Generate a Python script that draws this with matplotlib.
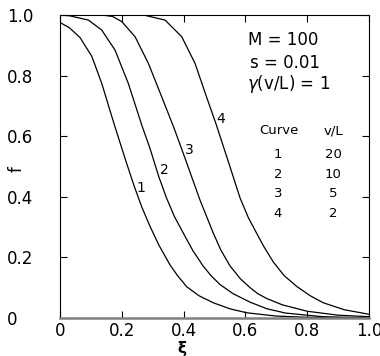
import matplotlib
matplotlib.use("Agg")
from matplotlib import pyplot as plt

# values
xi1 = [0.0, 0.03, 0.065, 0.103, 0.135, 0.175, 0.214, 0.24, 0.265, 0.29, 0.32, 0.356, 0.38,
       0.41, 0.45, 0.496, 0.55, 0.604, 0.7, 0.8, 1.0]
f1 = [0.975, 0.958, 0.925, 0.863, 0.774, 0.64, 0.515, 0.435, 0.365, 0.305, 0.24, 0.175, 0.14,
      0.103, 0.073, 0.05, 0.03, 0.017, 0.006, 0.002, 0.0]

xi2 = [0.0, 0.032, 0.092, 0.135, 0.178, 0.221, 0.266, 0.291, 0.32, 0.345, 0.37, 0.399, 0.43,
       0.464, 0.49, 0.518, 0.56, 0.615, 0.67, 0.73, 0.85, 1.0]
f2 = [1.0, 0.997, 0.983, 0.95, 0.884, 0.774, 0.632, 0.56, 0.465, 0.395, 0.335, 0.28, 0.222,
      0.17, 0.138, 0.11, 0.08, 0.052, 0.03, 0.016, 0.004, 0.0]

xi3 = [0.0, 0.135, 0.17, 0.2, 0.243, 0.286, 0.329, 0.367, 0.40, 0.453, 0.496, 0.52, 0.55,
       0.583, 0.615, 0.64, 0.669, 0.72, 0.8, 0.9, 1.0]
f3 = [1.0, 1.0, 0.995, 0.978, 0.928, 0.84, 0.73, 0.632, 0.54, 0.389, 0.28, 0.225, 0.172,
      0.13, 0.1, 0.08, 0.064, 0.043, 0.022, 0.009, 0.004]

xi4 = [0.0, 0.27, 0.34, 0.394, 0.437, 0.474, 0.505, 0.545, 0.583, 0.61, 0.636, 0.66, 0.69,
       0.725, 0.766, 0.81, 0.852, 0.92, 1.0]
f4 = [1.0, 1.0, 0.983, 0.928, 0.84, 0.73, 0.64, 0.515, 0.395, 0.33, 0.28, 0.235, 0.185,
      0.14, 0.104, 0.073, 0.05, 0.027, 0.012]

curves = ["1", "2", "3", "4"]
vl = ["20", "10", "5", "2"]
label_pos = [(0.248, 0.405), (0.324, 0.465), (0.405, 0.53), (0.507, 0.632)]
ticks = [0, 0.2, 0.4, 0.6, 0.8, 1.0]
ticklabels = ["0", "0.2", "0.4", "0.6", "0.8", "1.0"]
row_y = [0.54, 0.475, 0.41, 0.345]

fig = plt.figure(figsize=(3.8, 3.56), dpi=100)
ax = fig.add_axes([0.158, 0.107, 0.813, 0.851])

for x, y in [(xi1, f1), (xi2, f2), (xi3, f3), (xi4, f4)]:
    ax.plot(x, y, color="black", linewidth=0.9)

for c, (px, py) in zip(curves, label_pos):
    ax.text(px, py, c, fontsize=10, ha="left", va="bottom")

ax.text(0.608, 0.9, "M = 100", fontsize=12)
ax.text(0.615, 0.825, "s = 0.01", fontsize=12)
ax.text(0.605, 0.755, r"$\gamma$(v/L) = 1", fontsize=12)

ax.text(0.708, 0.617, "Curve", fontsize=9.5, ha="center", va="center")
ax.text(0.885, 0.617, "v/L", fontsize=9.5, ha="center", va="center")
for c, v, ry in zip(curves, vl, row_y):
    ax.text(0.705, ry, c, fontsize=9.5, ha="center", va="center")
    ax.text(0.885, ry, v, fontsize=9.5, ha="center", va="center")

ax.set_xlim(0, 1.0)
ax.set_ylim(0, 1.0)
ax.set_xticks(ticks)
ax.set_xticklabels(ticklabels)
ax.set_yticks(ticks)
ax.set_yticklabels(ticklabels)
ax.tick_params(direction="in", length=5, labelsize=12, top=True, right=True)
ax.tick_params(axis="x", pad=3)
ax.tick_params(axis="y", pad=38)
for lbl in ax.get_yticklabels():
    lbl.set_horizontalalignment("left")
ax.spines["bottom"].set_color("0.5")
ax.spines["bottom"].set_linewidth(1.8)

ax.set_ylabel("f", fontsize=12)
ax.yaxis.set_label_coords(-0.113, 0.49)
fig.text(0.479, 0.0, "ξ", fontsize=11, ha="center", va="bottom", fontweight="bold")

plt.savefig("out.png", dpi=100)
